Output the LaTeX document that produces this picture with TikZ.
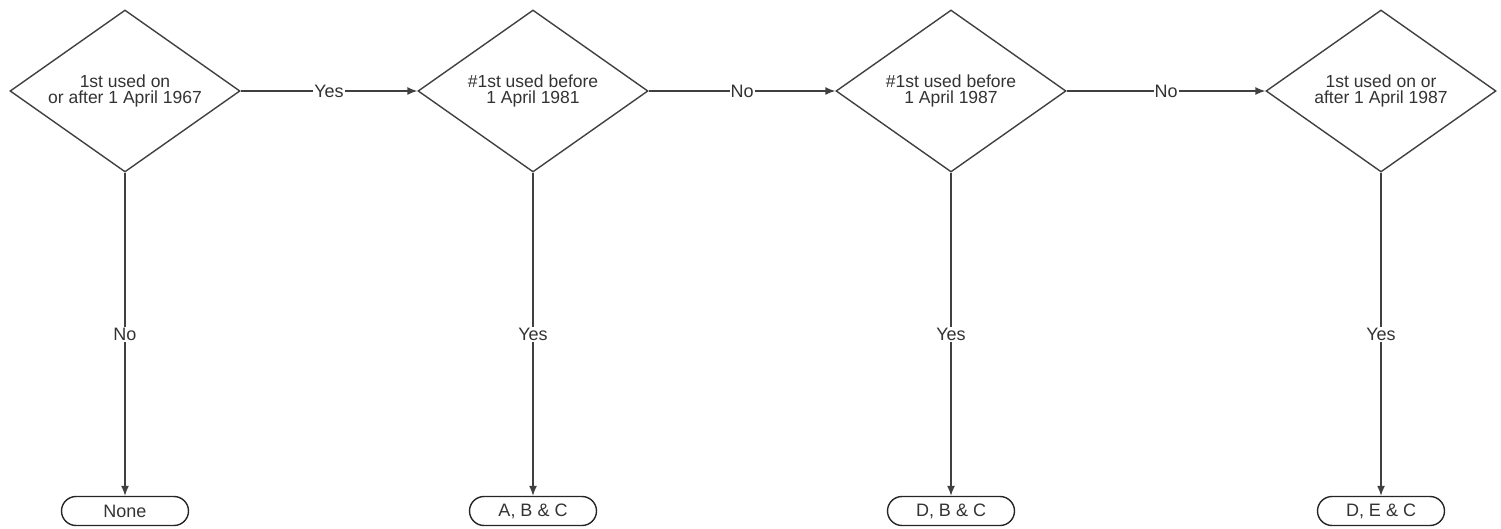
\documentclass[tikz,border=0pt]{standalone}
\usepackage{fontspec}
\setmainfont{Liberation Sans}
\usetikzlibrary{shapes.geometric,shapes.misc,arrows.meta}

\tikzset{
  decision/.style={diamond,draw=black!75,line width=1.4pt,aspect=1.42,
    minimum width=230pt,minimum height=162pt,inner sep=0pt,align=center,
    font=\fontsize{17.5}{16}\selectfont,text=black!80},
  outcome/.style={rounded rectangle,draw=black!85,line width=1.4pt,
    minimum width=127pt,minimum height=29pt,inner sep=0pt,
    font=\fontsize{18}{18}\selectfont,text=black!80},
  flow/.style={draw=black!75,line width=1.4pt,-{Latex[length=10pt,width=8pt]}},
  answer/.style={fill=white,inner sep=1pt,font=\fontsize{18}{18}\selectfont,text=black!80}
}

\begin{document}
\begin{tikzpicture}[x=1pt,y=-1pt]
  \useasboundingbox (0,0) rectangle (1501,529);

  % the four questions
  \node[decision] (q1) at (125,91) {1st used on\\or after 1 April 1967};
  \node[decision] (q2) at (533,91) {\#1st used before\\1 April 1981};
  \node[decision] (q3) at (951,91) {\#1st used before\\1 April 1987};
  \node[decision] (q4) at (1381,91) {1st used on or\\after 1 April 1987};

  % the answers at the bottom
  \node[outcome] (r1) at (125,511) {None};
  \node[outcome] (r2) at (533,511) {A, B \& C};
  \node[outcome] (r3) at (951,511) {D, B \& C};
  \node[outcome] (r4) at (1381,511) {D, E \& C};

  % along the top
  \draw[flow] (q1.east) -- node[answer] {Yes} (q2.west);
  \draw[flow] (q2.east) -- node[answer] {No} (q3.west);
  \draw[flow] (q3.east) -- node[answer] {No} (q4.west);

  % down to the answers
  \draw[flow] (q1.south) -- node[answer] {No} (r1.north);
  \foreach \i in {2,3,4}
    \draw[flow] (q\i.south) -- node[answer] {Yes} (r\i.north);
\end{tikzpicture}
\end{document}
